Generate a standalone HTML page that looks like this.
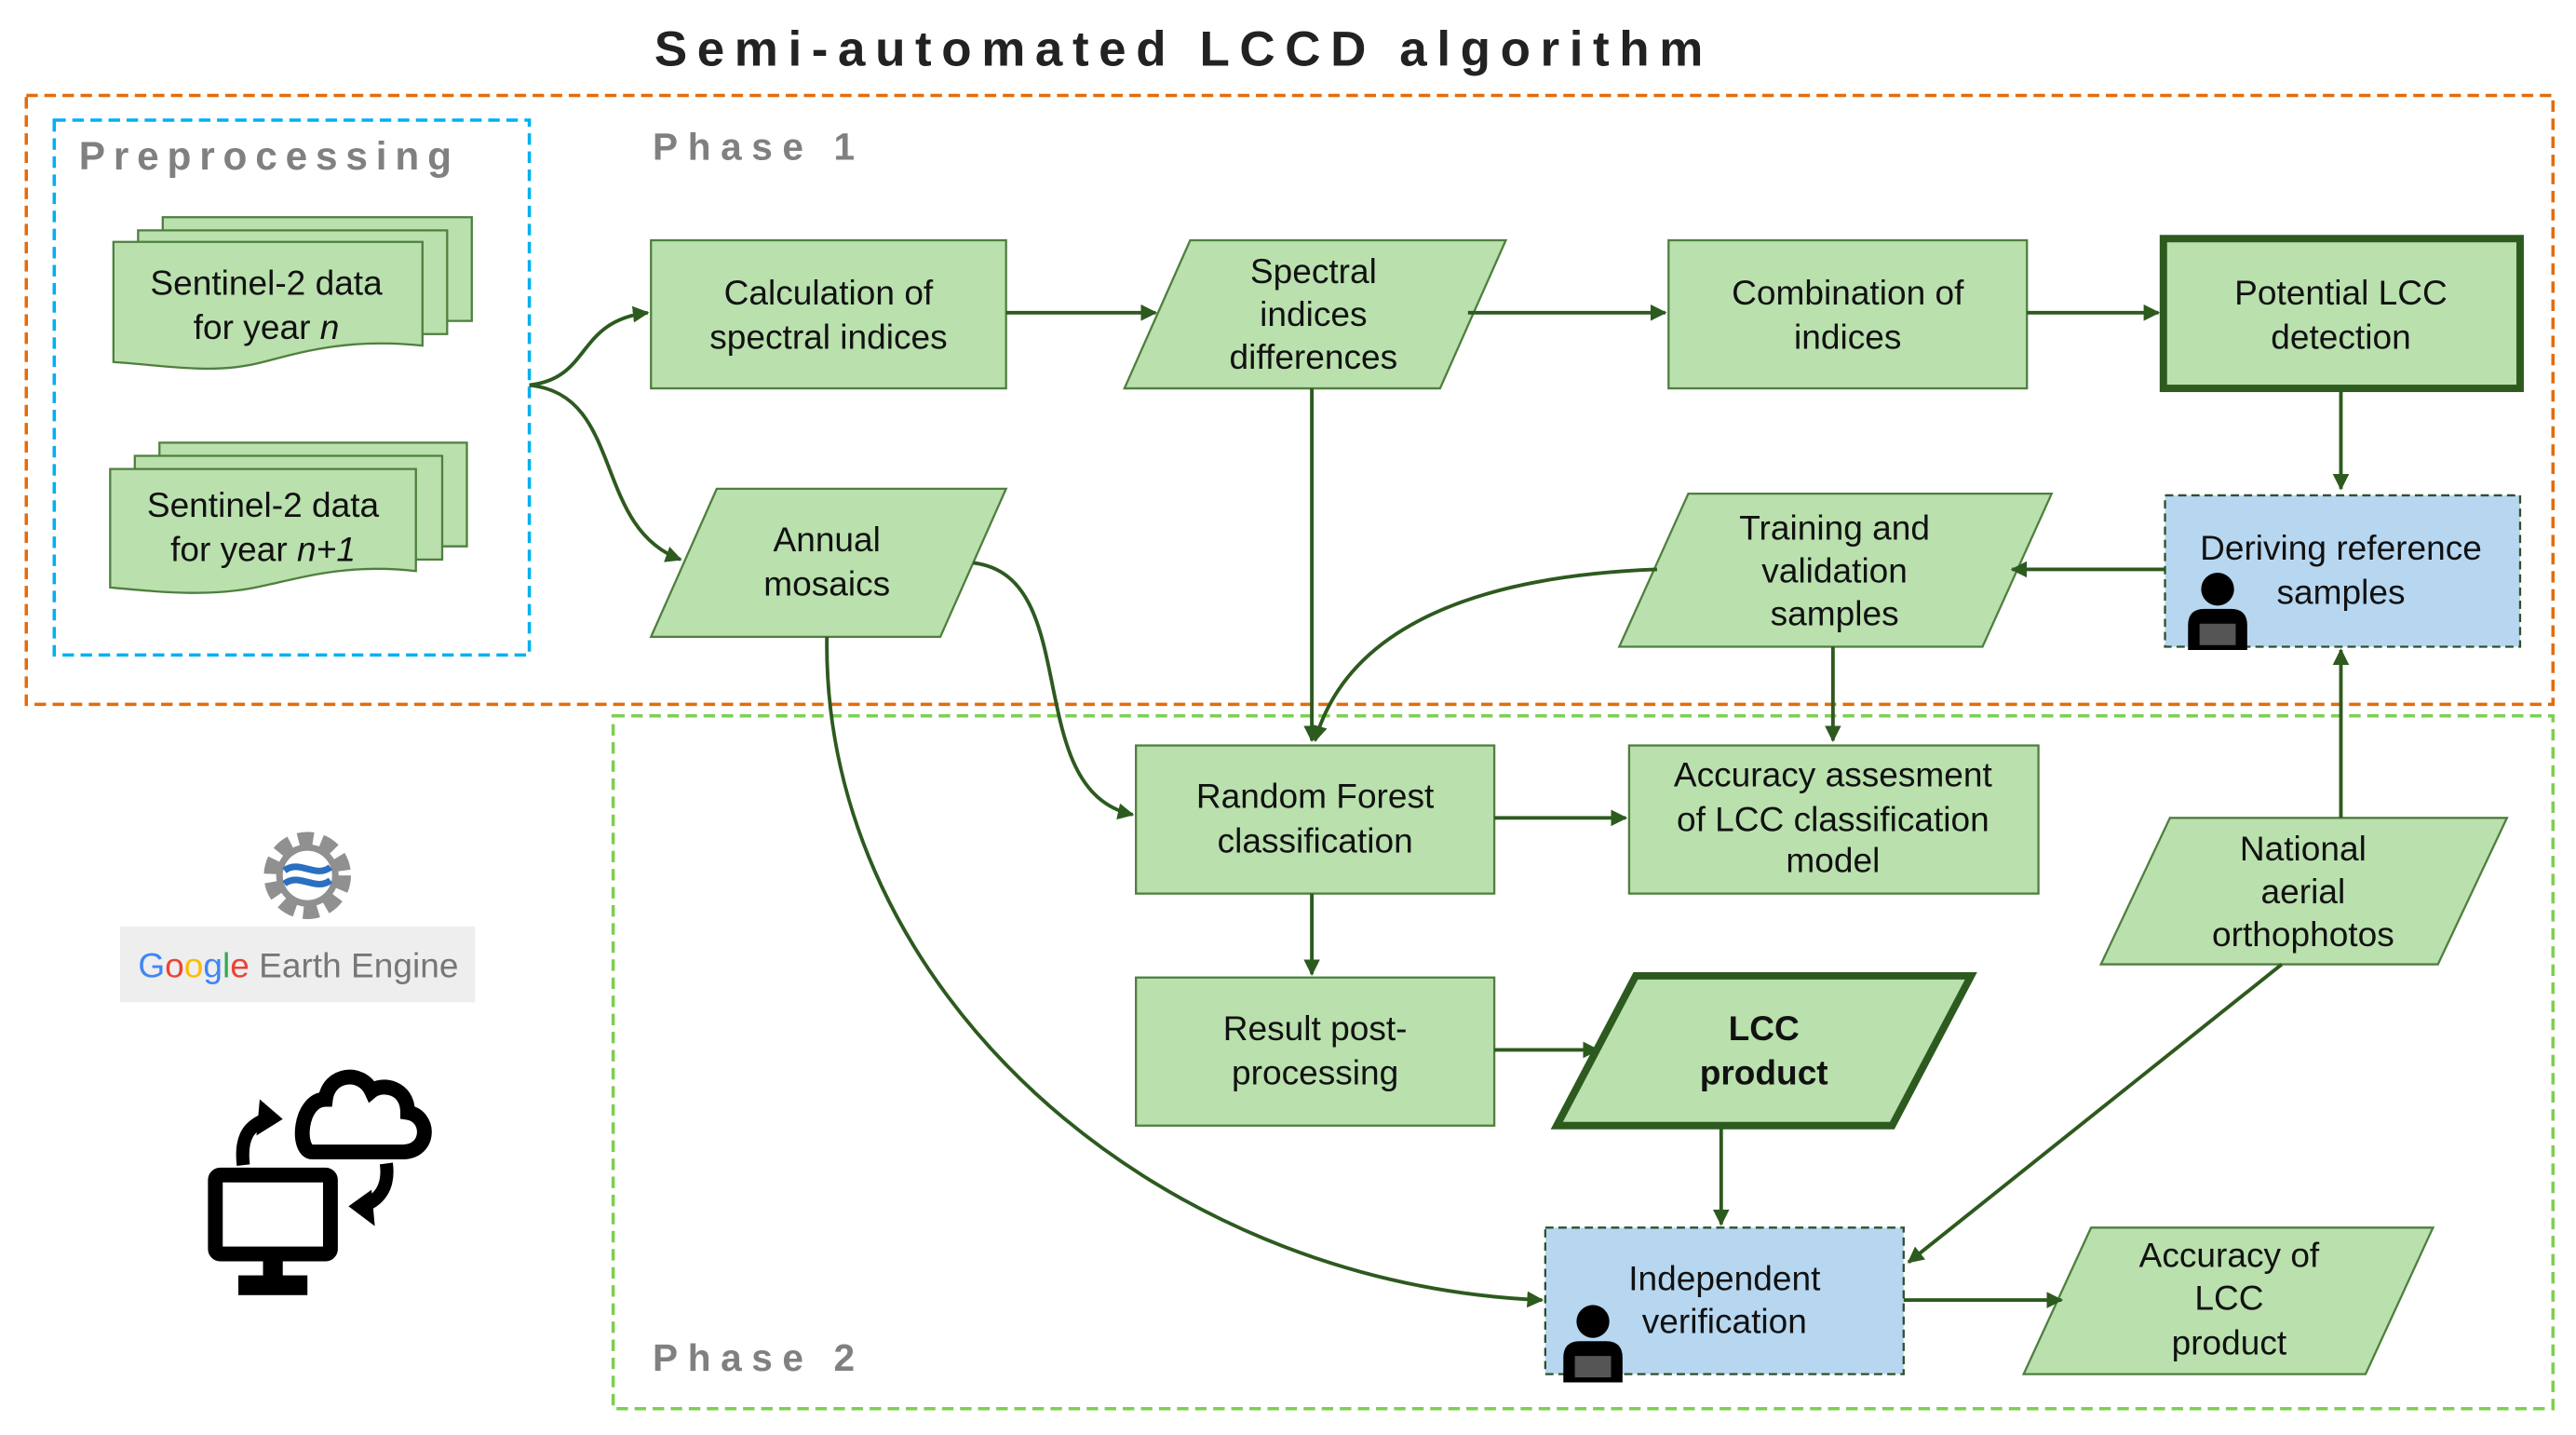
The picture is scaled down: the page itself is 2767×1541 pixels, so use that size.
<!DOCTYPE html>
<html><head><meta charset="utf-8"><style>
html,body{margin:0;padding:0;background:#fff;}
svg{display:block;}
text{font-family:"Liberation Sans",sans-serif;}
.t{font-size:21px;fill:#111;text-anchor:middle;}
.n{fill:#b9e0ad;stroke:#4f7f3f;stroke-width:1.3;}
.b{fill:#b7d7f0;stroke:#2f4f2f;stroke-width:1.3;stroke-dasharray:5,3;}
.c{fill:none;stroke:#2d5a1f;stroke-width:2.2;}
</style></head><body>
<svg width="2767" height="1541" viewBox="0 0 1567 872" preserveAspectRatio="none" xmlns="http://www.w3.org/2000/svg">
<defs>
<marker id="a" markerWidth="10" markerHeight="10" refX="9" refY="5" orient="auto" markerUnits="userSpaceOnUse"><path d="M0,0 L10,5 L0,10 z" fill="#2d5a1f"/></marker>
</defs>
<text x="720" y="40" style="font-size:30px;letter-spacing:6px;fill:#222;font-weight:bold" text-anchor="middle">Semi-automated LCCD algorithm</text>
<rect x="16" y="58" width="1537" height="370" fill="none" stroke="#e46c0a" stroke-width="2" stroke-dasharray="7,4"/>
<rect x="33" y="73" width="289" height="325" fill="none" stroke="#00b0f0" stroke-width="2" stroke-dasharray="7,4"/>
<rect x="373" y="435" width="1180" height="421" fill="none" stroke="#7dcf4f" stroke-width="2" stroke-dasharray="7,4"/>
<text x="48" y="103" style="font-size:24px;font-weight:bold;fill:#808080;letter-spacing:5px">Preprocessing</text>
<text x="397" y="97" style="font-size:23px;font-weight:bold;fill:#808080;letter-spacing:6px">Phase 1</text>
<text x="397" y="833" style="font-size:23px;font-weight:bold;fill:#808080;letter-spacing:6px">Phase 2</text>

<g class="n">
<path d="M99,132 H287 V195 H99 Z"/><path d="M84,140 H272 V203 H84 Z"/>
<path d="M69,147 H257 V210 C210,205 180,215 160,220 C130,228 100,222 69,220 Z"/>
<path d="M97,269 H284 V332 H97 Z"/><path d="M82,277 H269 V340 H82 Z"/>
<path d="M67,285 H253 V347 C210,342 180,352 160,356 C130,363 100,360 67,357 Z"/>
</g>
<text class="t" x="162" y="179">Sentinel-2 data</text>
<text class="t" x="162" y="206">for year <tspan font-style="italic">n</tspan></text>
<text class="t" x="160" y="314">Sentinel-2 data</text>
<text class="t" x="160" y="341">for year <tspan font-style="italic">n+1</tspan></text>

<rect class="n" x="396" y="146" width="216" height="90"/>
<text class="t" x="504" y="185">Calculation of</text><text class="t" x="504" y="212">spectral indices</text>
<path class="n" d="M724,146 H916 L876,236 H684 Z"/>
<text class="t" x="799" y="172">Spectral</text><text class="t" x="799" y="198">indices</text><text class="t" x="799" y="224">differences</text>
<rect class="n" x="1015" y="146" width="218" height="90"/>
<text class="t" x="1124" y="185">Combination of</text><text class="t" x="1124" y="212">indices</text>
<rect class="n" x="1316" y="145" width="217" height="91" style="stroke:#2d5a1f;stroke-width:4.5"/>
<text class="t" x="1424" y="185">Potential LCC</text><text class="t" x="1424" y="212">detection</text>
<path class="n" d="M436,297 H612 L572,387 H396 Z"/>
<text class="t" x="503" y="335">Annual</text><text class="t" x="503" y="362">mosaics</text>
<path class="n" d="M1027,300 H1248 L1206,393 H985 Z"/>
<text class="t" x="1116" y="328">Training and</text><text class="t" x="1116" y="354">validation</text><text class="t" x="1116" y="380">samples</text>
<rect class="b" x="1317" y="301" width="216" height="92"/>
<text class="t" x="1424" y="340">Deriving reference</text><text class="t" x="1424" y="367">samples</text>
<rect class="n" x="691" y="453" width="218" height="90"/>
<text class="t" x="800" y="491">Random Forest</text><text class="t" x="800" y="518">classification</text>
<rect class="n" x="991" y="453" width="249" height="90"/>
<text class="t" x="1115" y="478">Accuracy assesment</text><text class="t" x="1115" y="505">of LCC classification</text><text class="t" x="1115" y="530">model</text>
<path class="n" d="M1320,497 H1525 L1483,586 H1278 Z"/>
<text class="t" x="1401" y="523">National</text><text class="t" x="1401" y="549">aerial</text><text class="t" x="1401" y="575">orthophotos</text>
<rect class="n" x="691" y="594" width="218" height="90"/>
<text class="t" x="800" y="632">Result post-</text><text class="t" x="800" y="659">processing</text>
<path class="n" d="M995,593 H1199 L1151,684 H947 Z" style="stroke:#2d5a1f;stroke-width:4.5"/>
<text class="t" x="1073" y="632" font-weight="bold">LCC</text><text class="t" x="1073" y="659" font-weight="bold">product</text>
<rect class="b" x="940" y="746" width="218" height="89"/>
<text class="t" x="1049" y="784">Independent</text><text class="t" x="1049" y="810">verification</text>
<path class="n" d="M1272,746 H1480 L1439,835 H1231 Z"/>
<text class="t" x="1356" y="770">Accuracy of</text><text class="t" x="1356" y="796">LCC</text><text class="t" x="1356" y="823">product</text>

<g fill="#000">
<circle cx="1349" cy="358" r="10"/><path d="M1331,395 V380 Q1331,370 1341,370 H1357 Q1367,370 1367,380 V395 Z"/>
<rect x="1338" y="379" width="22" height="13" fill="#555"/>
<circle cx="969" cy="803" r="10"/><path d="M951,840 V825 Q951,815 961,815 H977 Q987,815 987,825 V840 Z"/>
<rect x="958" y="824" width="22" height="13" fill="#555"/>
</g>

<g class="c">
<path d="M322,234 C360,230 350,195 394,190" marker-end="url(#a)"/>
<path d="M322,234 C380,240 360,320 414,340" marker-end="url(#a)"/>
<path d="M612,190 H703" marker-end="url(#a)"/>
<path d="M893,190 H1013" marker-end="url(#a)"/>
<path d="M1233,190 H1313" marker-end="url(#a)"/>
<path d="M1424,236 V297" marker-end="url(#a)"/>
<path d="M1317,346 H1224" marker-end="url(#a)"/>
<path d="M798,236 V450" marker-end="url(#a)"/>
<path d="M1008,346 C900,350 820,380 800,450" marker-end="url(#a)"/>
<path d="M1115,393 V450" marker-end="url(#a)"/>
<path d="M592,342 C660,350 620,480 689,495" marker-end="url(#a)"/>
<path d="M503,387 C500,600 700,780 938,790" marker-end="url(#a)"/>
<path d="M909,497 H989" marker-end="url(#a)"/>
<path d="M798,543 V592" marker-end="url(#a)"/>
<path d="M909,638 H972" marker-end="url(#a)"/>
<path d="M1047,684 V744" marker-end="url(#a)"/>
<path d="M1424,497 V395" marker-end="url(#a)"/>
<path d="M1388,586 L1161,767" marker-end="url(#a)"/>
<path d="M1158,790 H1254" marker-end="url(#a)"/>
</g>

<g transform="translate(187,532)">
<circle r="22" fill="none" stroke="#909090" stroke-width="9" stroke-dasharray="9,5"/>
<circle r="19" fill="#909090"/>
<circle r="15" fill="#fff"/>
<path d="M-14,-3 C-5,-10 5,2 14,-5" stroke="#2a6fc0" stroke-width="4" fill="none"/>
<path d="M-14,5 C-5,-2 5,10 14,3" stroke="#2a6fc0" stroke-width="4" fill="none"/>
</g>
<rect x="73" y="563" width="216" height="46" fill="#eeeeee"/>
<text x="84" y="594" style="font-size:21px"><tspan fill="#4285f4">G</tspan><tspan fill="#ea4335">o</tspan><tspan fill="#fbbc05">o</tspan><tspan fill="#4285f4">g</tspan><tspan fill="#34a853">l</tspan><tspan fill="#ea4335">e</tspan><tspan fill="#777"> Earth Engine</tspan></text>

<g>
<rect x="131" y="714" width="70" height="48" rx="3" fill="none" stroke="#000" stroke-width="9"/>
<rect x="160" y="762" width="12" height="14" fill="#000"/>
<rect x="145" y="775" width="42" height="12" fill="#000"/>
<path d="M190,700 H245 C262,700 262,678 248,676 C248,660 232,658 226,663 C220,650 200,652 198,668 C182,668 180,700 190,700 Z" fill="none" stroke="#000" stroke-width="9"/>
<path d="M148,708 C146,690 152,684 162,680" fill="none" stroke="#000" stroke-width="8"/>
<path d="M158,668 L172,680 L156,690 Z" fill="#000"/>
<path d="M235,707 C237,722 230,730 220,733" fill="none" stroke="#000" stroke-width="8"/>
<path d="M226,723 L212,733 L228,745 Z" fill="#000"/>
</g>
</svg>
</body></html>
